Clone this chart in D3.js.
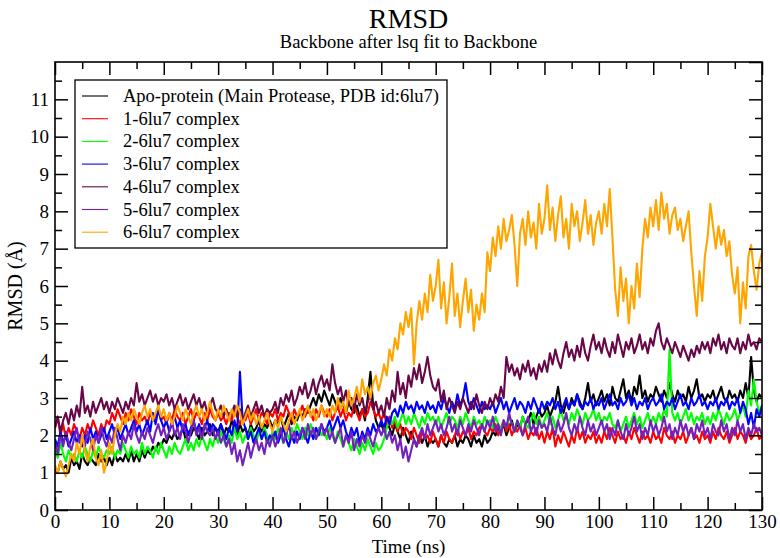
<!DOCTYPE html>
<html><head><meta charset="utf-8">
<script src="https://cdn.jsdelivr.net/npm/d3@7/dist/d3.min.js"></script>
<style>
body{margin:0;background:#fff}
svg{display:block}
text{font-family:"Liberation Serif","Times New Roman",serif;fill:#000}
</style>
</head><body>
<svg id="chart" width="780" height="558"></svg>
<script>
// ---- data (RMSD in Å, sampled every 0.5 ns from 0 to 130 ns) ----
const timeStepNs = 0.5;
const seriesNames = ["Apo-protein (Main Protease, PDB id:6lu7)","1-6lu7 complex","2-6lu7 complex","3-6lu7 complex","4-6lu7 complex","5-6lu7 complex","6-6lu7 complex"];
const seriesColors = ["#000000","#ff0000","#00ff00","#0000ff","#670748","#7221bc","#ffa500"];
const xTickLabels = [0,10,20,30,40,50,60,70,80,90,100,110,120,130];
const yTickLabels = [0,1,2,3,4,5,6,7,8,9,10,11];

const apo = [
1.1,1.0,1.3,1.1,1.2,1.0,1.4,1.2,1.3,1.1, 1.5,1.3,1.2,1.4,1.3,1.2,1.5,1.3,1.4,1.2,
1.4,1.2,1.5,1.3,1.4,1.3,1.5,1.3,1.6,1.3, 1.5,1.3,1.6,1.4,1.6,1.5,1.7,1.6,1.8,1.7,
1.9,1.8,2.0,1.9,2.1,1.9,2.0,2.2,1.9,2.1, 2.0,2.2,2.1,1.9,2.2,2.0,2.1,2.3,2.0,2.2,
2.1,2.3,2.0,2.2,2.1,2.4,2.2,2.0,2.3,2.1, 2.2,2.0,2.3,2.1,2.2,2.4,2.1,2.3,2.2,2.4,
2.2,2.4,2.3,2.5,2.2,2.4,2.6,2.3,2.5,2.4, 2.6,2.5,2.7,2.6,2.8,3.0,2.8,3.1,2.9,3.2,
3.0,2.8,3.1,2.9,2.7,3.0,2.8,2.6,2.9,2.7, 2.6,2.8,2.5,2.7,2.4,3.0,3.7,2.8,2.4,2.2,
2.3,2.1,2.4,2.2,2.0,2.3,2.1,1.9,2.2,2.0, 1.8,2.1,1.9,1.7,2.0,1.8,2.0,1.7,1.9,1.8,
1.9,1.7,2.0,1.8,1.7,1.9,1.8,2.0,1.7,1.9, 1.8,2.0,1.9,1.7,2.0,1.8,1.9,1.7,2.0,1.8,
1.9,2.1,2.0,2.2,2.1,2.3,2.0,2.2,2.4,2.1, 2.3,2.2,2.5,2.3,2.4,2.6,2.3,2.5,2.7,2.5,
2.6,2.8,2.5,2.7,2.9,3.3,2.8,2.6,2.9,2.7, 3.0,2.8,3.1,2.9,2.7,3.0,3.4,2.9,3.1,2.8,
3.0,3.2,2.9,3.1,2.8,3.3,3.0,2.9,3.2,3.5, 3.0,3.2,2.9,3.3,3.1,3.6,3.0,3.2,2.9,3.1,
3.0,3.3,3.1,2.9,3.2,3.0,3.4,3.1,2.9,3.2, 3.0,3.1,2.9,3.3,3.0,3.2,3.5,3.0,3.1,2.9,
3.1,3.0,3.2,2.9,3.1,3.3,3.0,2.9,3.2,3.0, 3.1,2.9,3.2,3.0,3.4,3.0,4.1,3.2,2.9,3.1, 3.0];

const complex1 = [
2.2,2.5,2.0,2.3,1.9,2.2,2.0,2.3,2.1,1.9, 2.2,2.0,2.3,2.1,2.4,2.2,2.0,2.3,2.1,2.4,
2.3,2.6,2.4,2.7,2.5,2.3,2.6,2.4,2.7,2.5, 2.3,2.6,2.4,2.5,2.3,2.6,2.4,2.5,2.7,2.4,
2.5,2.3,2.6,2.4,2.7,2.5,2.4,2.6,2.3,2.5, 2.7,2.4,2.6,2.5,2.3,2.6,2.4,2.7,2.5,2.4,
2.6,2.4,2.5,2.3,2.6,2.4,2.7,2.5,2.3,2.5, 2.4,2.6,2.3,2.5,2.7,2.4,2.6,2.5,2.3,2.6,
2.5,2.7,2.4,2.6,2.5,2.8,2.6,2.4,2.7,2.5, 2.6,2.8,2.5,2.7,2.6,2.4,2.7,2.5,2.8,2.6,
2.5,2.7,2.4,2.6,2.8,2.5,2.7,2.4,2.6,2.5, 2.8,2.6,2.4,2.7,2.5,2.6,2.9,2.7,2.5,2.6,
2.4,2.6,2.3,2.5,2.2,2.4,2.1,2.3,2.0,2.2, 2.1,1.9,2.2,2.0,1.8,2.1,1.9,2.0,1.8,2.1,
1.9,1.7,2.0,1.8,2.1,1.9,1.8,2.0,2.2,1.9, 2.1,2.0,2.2,1.9,2.1,2.0,2.2,2.3,2.1,2.0,
2.2,2.1,2.3,2.0,2.2,2.4,2.1,2.3,2.0,2.2, 2.1,2.3,2.0,2.2,1.9,2.1,2.0,2.2,1.9,2.1,
1.8,2.1,1.9,2.2,1.7,2.0,1.8,2.1,1.9,1.7, 2.0,1.8,2.2,1.9,2.1,1.8,2.0,1.9,2.1,1.8,
2.0,1.8,2.1,1.9,2.2,2.0,1.8,2.1,1.9,2.0, 1.8,2.1,1.9,2.2,2.0,1.8,2.1,1.9,2.0,1.8,
2.1,1.9,2.0,1.8,2.2,2.0,1.9,2.1,1.8,2.0, 1.9,2.1,1.8,2.0,2.2,1.9,2.0,1.8,2.1,1.9,
2.0,1.8,2.1,1.9,2.2,2.0,1.9,2.1,1.8,2.0, 2.2,1.9,2.1,2.0,1.8,2.1,1.9,2.0,2.2,1.9, 2.0];

const complex2 = [
1.6,1.4,1.8,1.5,1.3,1.6,1.4,1.5,1.3,1.6, 1.4,1.7,1.5,1.3,1.6,1.4,1.7,1.5,1.4,1.6,
1.5,1.7,1.4,1.6,1.5,1.8,1.6,1.4,1.7,1.5, 1.6,1.4,1.8,1.5,1.7,1.6,1.4,1.7,1.5,1.8,
1.6,1.4,1.7,1.5,1.8,1.6,1.5,1.7,1.9,1.6, 1.8,1.6,1.9,1.7,2.0,1.8,1.6,1.9,1.7,2.0,
1.8,2.1,1.9,1.7,2.0,1.8,2.2,1.9,2.1,1.8, 2.0,1.9,2.2,2.0,1.8,2.1,1.9,2.2,2.0,1.8,
2.1,1.9,2.2,2.0,1.8,2.1,1.9,2.2,2.0,2.3, 2.1,1.9,2.2,2.0,2.3,2.1,1.9,2.2,2.0,2.1,
1.9,2.2,2.0,1.8,2.1,1.9,1.7,2.0,1.8,1.6, 1.9,1.7,1.5,1.8,1.6,1.9,1.7,1.5,1.8,1.6,
1.7,1.9,2.2,2.4,2.3,2.5,2.2,2.4,2.6,2.3, 2.5,2.3,2.6,2.4,2.2,2.5,2.3,2.6,2.4,2.5,
2.3,2.5,2.2,2.4,2.6,2.3,2.5,2.4,2.2,2.5, 2.3,2.6,2.4,2.2,2.5,2.3,2.4,2.2,2.5,2.3,
2.4,2.2,2.5,2.3,2.1,2.4,2.2,2.5,2.3,2.1, 2.4,2.2,2.5,2.3,2.2,2.4,2.6,2.3,2.5,2.2,
2.4,2.6,2.3,2.5,2.2,2.4,2.7,2.4,2.5,2.3, 2.6,2.4,2.7,2.5,2.3,2.6,2.4,2.5,2.7,2.4,
2.6,2.3,2.5,2.4,2.6,2.3,2.2,2.4,2.1,2.3, 2.5,2.2,2.4,2.6,2.3,2.5,2.2,2.4,2.6,2.3,
2.5,2.3,2.6,2.4,2.7,2.5,4.3,2.6,2.4,2.6, 2.3,2.5,2.7,2.4,2.6,2.3,2.5,2.4,2.6,2.3,
2.5,2.3,2.6,2.4,2.7,2.5,2.3,2.6,2.4,2.5, 2.7,2.4,2.6,2.8,2.5,3.2,2.8,3.5,2.9,2.6, 2.8];

const complex3 = [
1.9,1.7,2.1,1.8,2.0,1.7,1.9,2.1,1.8,2.0, 1.7,2.0,1.8,2.2,1.9,2.1,1.8,2.0,2.2,1.9,
2.1,2.3,2.0,2.2,1.9,2.1,2.3,2.0,2.2,2.4, 2.1,2.3,2.0,2.2,2.4,2.1,2.6,2.3,2.7,2.4,
2.2,2.4,2.1,2.3,2.5,2.2,2.4,2.1,2.3,2.0, 2.2,2.4,2.1,2.3,2.0,2.2,2.4,2.1,2.3,2.2,
2.0,2.3,2.1,1.9,2.2,2.0,2.4,2.1,3.7,2.4, 2.2,1.9,2.1,1.8,2.0,2.2,1.9,2.1,1.8,2.0,
1.9,2.1,1.8,2.0,2.2,1.9,1.7,2.0,1.8,2.1, 1.9,2.2,2.0,1.8,2.1,1.9,2.2,2.0,2.3,2.1,
2.2,2.4,2.1,2.3,2.5,2.2,2.4,2.1,1.9,2.2, 2.0,2.2,1.8,2.1,1.9,2.2,2.0,2.3,2.1,2.2,
2.4,2.2,2.5,2.3,2.6,2.7,2.5,2.8,2.6,2.9, 2.7,2.8,2.6,2.9,2.7,2.8,2.6,2.9,2.7,2.8,
2.6,2.9,2.7,3.0,2.8,2.6,2.9,2.7,3.1,2.8, 3.0,3.4,2.9,2.7,3.0,2.8,2.6,2.9,2.7,2.8,
2.7,2.9,2.6,2.8,3.0,2.7,2.9,2.6,2.8,3.0, 2.7,2.9,2.8,2.6,2.9,2.7,3.0,2.8,2.6,2.9,
2.7,2.9,2.8,3.0,2.7,2.9,2.6,2.8,3.0,2.7, 2.9,2.8,3.1,2.8,2.7,2.9,2.8,3.0,2.7,2.9,
2.8,3.0,2.7,2.9,3.1,2.8,2.9,2.7,3.0,2.8, 2.9,3.1,2.8,3.0,2.7,2.9,2.8,3.0,2.7,2.9,
3.0,2.8,2.9,3.1,2.7,2.9,2.8,3.0,2.7,2.9, 3.1,2.8,2.9,2.7,3.0,2.8,2.9,3.1,2.8,2.9,
2.7,2.9,2.8,3.0,2.7,2.9,2.8,3.0,2.7,2.9, 2.8,3.0,2.6,2.9,2.7,2.3,2.6,2.2,2.7,2.5, 2.8];

const complex4 = [
2.2,2.5,2.1,2.4,2.6,2.3,2.7,2.4,2.8,2.5, 3.3,2.6,2.8,2.5,2.9,2.6,2.8,3.0,2.7,2.9,
2.6,2.9,2.7,3.0,2.8,2.6,2.9,2.7,3.0,2.8, 3.4,2.9,3.1,2.8,3.0,3.2,2.9,3.1,2.8,3.0,
2.9,3.1,2.8,3.0,2.7,2.9,3.1,2.8,3.0,2.7, 2.9,3.1,2.8,3.0,2.7,2.9,2.6,2.8,3.0,2.7,
2.6,2.8,2.5,2.7,2.4,2.6,2.8,2.5,2.7,2.4, 2.6,2.8,2.5,2.7,2.9,2.6,2.8,2.5,2.7,2.6,
2.7,2.9,2.6,3.0,2.8,3.1,2.9,3.2,2.8,3.0, 3.3,3.1,3.4,3.0,3.2,3.5,3.1,3.4,3.6,3.3,
3.5,3.2,3.9,3.4,3.1,3.3,2.9,3.2,2.8,3.0, 2.7,3.1,2.8,3.0,2.6,2.9,3.1,2.7,2.9,2.6,
2.8,2.5,3.0,2.7,3.2,2.9,3.7,3.1,3.4,3.0, 3.6,3.3,3.8,3.5,3.9,3.4,3.7,4.1,3.6,3.3,
3.2,3.5,2.9,3.2,2.7,3.0,2.8,2.6,2.9,2.7, 3.0,2.8,2.6,2.9,2.7,3.1,2.8,2.6,2.9,2.7,
3.0,2.8,3.1,2.9,3.3,3.0,4.1,3.7,3.9,3.6, 3.8,3.5,3.9,3.7,4.0,3.6,3.8,3.5,3.9,3.7,
4.0,3.7,4.2,3.9,4.3,4.0,3.8,4.2,4.5,4.1, 4.3,4.0,4.4,4.1,4.6,4.2,4.0,4.4,4.7,4.3,
4.5,4.2,4.6,4.3,4.1,4.5,4.2,4.7,4.4,4.1, 4.5,4.3,4.6,4.2,4.4,4.7,4.3,4.5,4.2,4.6,
4.4,4.8,5.0,4.5,4.3,4.6,4.4,4.2,4.5,4.3, 4.1,4.4,4.2,4.0,4.3,4.1,4.4,4.2,4.5,4.3,
4.5,4.2,4.6,4.4,4.7,4.3,4.5,4.2,4.6,4.4, 4.3,4.6,4.2,4.5,4.3,4.7,4.4,4.5,4.3,4.6, 4.5];

const complex5 = [
1.8,1.5,2.0,1.7,2.1,1.8,1.6,1.9,2.2,1.8, 2.0,1.7,2.1,1.9,1.6,2.0,1.8,2.2,1.9,1.7,
2.0,1.8,2.2,1.9,1.6,2.0,1.8,2.1,1.9,2.3, 2.0,1.8,2.1,1.9,2.2,2.0,1.8,2.1,2.3,2.0,
2.2,1.9,2.1,2.4,2.0,2.2,1.9,2.3,2.1,1.8, 2.1,2.4,2.0,2.2,1.9,2.3,2.1,2.0,2.2,1.9,
2.1,1.8,2.0,1.7,1.9,1.5,1.8,1.3,1.6,1.2, 1.5,1.8,1.4,1.7,1.9,1.6,1.8,1.5,1.9,1.7,
2.0,1.7,1.9,2.2,1.8,2.0,2.3,1.9,2.1,1.8, 2.0,2.2,1.9,2.3,2.0,2.2,1.9,2.1,2.3,2.0,
2.2,1.9,2.1,1.8,2.0,2.2,1.7,2.0,1.8,2.1, 1.6,1.9,1.7,2.0,1.8,2.1,1.9,1.7,2.0,2.2,
2.0,2.2,1.9,2.1,1.8,2.0,1.6,1.9,1.4,1.7, 1.3,1.6,1.9,1.7,2.0,2.2,1.9,2.3,2.0,2.2,
2.4,2.1,2.3,2.0,2.2,2.5,2.1,2.3,2.0,2.4, 2.2,2.0,2.3,2.1,2.4,2.2,2.0,2.3,2.1,2.4,
2.2,2.5,2.1,2.3,2.0,2.4,2.2,2.6,2.3,2.1, 2.4,2.2,2.0,2.3,2.5,2.1,2.3,2.0,2.4,2.2,
2.3,2.1,2.5,2.2,2.0,2.4,2.1,2.3,2.6,2.2, 2.0,2.3,2.1,2.5,2.2,2.0,2.4,2.1,2.3,2.0,
2.2,2.4,2.1,2.3,1.9,2.2,2.0,2.4,2.1,1.9, 2.3,2.0,2.2,2.5,2.1,2.3,1.9,2.2,2.0,2.4,
2.1,2.3,2.0,2.2,2.5,2.1,2.3,1.9,2.2,2.0, 2.4,2.1,2.3,2.0,2.2,1.9,2.3,2.1,2.4,2.0,
2.2,1.9,2.3,2.1,2.0,2.4,2.1,2.3,1.9,2.2, 2.0,2.4,2.1,2.3,1.9,2.2,2.0,2.3,2.1,2.2, 2.0];

const complex6 = [
1.2,1.0,1.3,1.1,0.9,1.2,1.5,1.3,1.8,1.5, 2.0,1.6,1.3,1.7,1.9,1.4,1.2,1.6,1.0,1.3,
1.8,1.5,2.0,2.3,2.1,2.5,2.3,2.6,2.4,2.7, 2.5,2.3,2.6,2.8,2.5,2.7,2.4,2.6,2.8,2.5,
2.7,2.4,2.6,2.3,2.5,2.8,2.6,2.4,2.7,2.5, 2.3,2.6,2.8,2.5,2.7,2.4,2.6,2.9,2.6,2.4,
2.7,2.5,2.8,2.6,2.4,2.7,2.5,2.8,2.6,2.3, 2.5,2.7,2.4,2.6,2.3,2.5,2.2,2.4,2.6,2.3,
2.1,2.4,2.2,2.5,2.3,2.1,2.4,2.6,2.3,2.5, 2.7,2.4,2.6,2.8,2.5,2.7,2.4,2.6,2.8,2.5,
2.7,2.5,2.8,2.6,3.0,2.7,2.9,2.6,3.2,2.8, 3.0,3.3,2.9,3.5,3.1,3.3,3.0,3.4,3.6,3.2,
3.5,3.9,3.6,4.3,4.0,4.6,4.3,5.0,4.7,5.3, 4.9,5.4,3.9,5.0,5.6,5.1,5.8,5.3,6.3,5.6,
6.0,6.7,5.4,6.1,5.0,5.7,6.6,5.2,5.8,4.9, 5.6,6.2,5.3,5.9,4.8,5.5,5.1,5.8,5.3,6.9,
6.4,7.3,6.8,7.6,7.0,7.8,7.2,7.5,7.9,7.1, 6.0,7.4,7.8,7.1,8.0,7.3,7.7,7.0,8.2,7.4,
7.8,8.7,7.5,8.1,7.2,7.9,8.4,7.3,7.8,7.0, 8.2,7.6,8.0,7.2,7.7,8.3,7.4,7.9,7.1,7.7,
8.0,7.4,8.2,7.6,8.6,7.3,5.9,5.2,6.5,5.6, 6.2,5.0,6.0,5.4,6.6,5.7,7.0,7.8,7.3,8.1,
7.6,8.3,7.5,8.5,7.8,8.2,7.4,7.9,8.1,7.5, 7.8,7.2,7.6,8.0,6.9,6.0,5.2,6.4,5.6,6.8,
7.3,8.2,7.6,7.0,7.6,7.1,7.5,6.8,7.2,6.3, 5.8,6.5,5.0,6.1,5.4,6.8,7.1,6.4,5.9,6.6, 6.9];

const seriesValues = [apo, complex1, complex2, complex3, complex4, complex5, complex6];

// ---- layout ----
const W = 780, H = 558;
const margin = {left:55, right:18, top:62, bottom:48};
const svg = d3.select("#chart");
const x = d3.scaleLinear().domain([0,130]).range([margin.left, W - margin.right]);
const y = d3.scaleLinear().domain([0,12]).range([H - margin.bottom, margin.top]);

svg.append("defs").append("clipPath").attr("id","plotclip")
  .append("rect").attr("x", x(0)).attr("y", y(12)).attr("width", x(130)-x(0)).attr("height", y(0)-y(12));

// ---- series lines ----
const line = d3.line().x((d,i)=>x(i*timeStepNs)).y(d=>y(d));
const gLines = svg.append("g").attr("clip-path","url(#plotclip)");
seriesValues.forEach((vals, k) => {
  gLines.append("path").datum(vals)
    .attr("fill","none").attr("stroke", seriesColors[k])
    .attr("stroke-width", 2.1).attr("stroke-linejoin","round")
    .attr("d", line);
});

// ---- axes ----
const xMinor = d3.range(5,130,10);
const yMinor = d3.range(0.5,12,1);
const yMajorAll = d3.range(0,13,1);
function styleAxis(g){ g.select(".domain").remove(); g.selectAll("line").attr("stroke","#000").attr("stroke-width",1.5);
  g.attr("font-family",null).attr("font-size",null);
  g.selectAll("text").style("font-family",'"Liberation Serif",serif').style("font-size","19px").attr("fill","#000"); }

svg.append("g").attr("transform",`translate(0,${y(0)})`)
  .call(d3.axisBottom(x).tickValues(xTickLabels).tickSize(-13).tickPadding(5).tickFormat(d3.format("d"))).call(styleAxis);
svg.append("g").attr("transform",`translate(0,${y(0)})`)
  .call(d3.axisBottom(x).tickValues(xMinor).tickSize(-7).tickFormat("")).call(styleAxis);
svg.append("g").attr("transform",`translate(0,${y(12)})`)
  .call(d3.axisTop(x).tickValues(xTickLabels).tickSize(-13).tickFormat("")).call(styleAxis);
svg.append("g").attr("transform",`translate(0,${y(12)})`)
  .call(d3.axisTop(x).tickValues(xMinor).tickSize(-7).tickFormat("")).call(styleAxis);

svg.append("g").attr("transform",`translate(${x(0)},0)`)
  .call(d3.axisLeft(y).tickValues(yTickLabels).tickSize(-13).tickPadding(6).tickFormat(d3.format("d"))).call(styleAxis);
svg.append("g").attr("transform",`translate(${x(0)},0)`)
  .call(d3.axisLeft(y).tickValues(yMinor).tickSize(-7).tickFormat("")).call(styleAxis);
svg.append("g").attr("transform",`translate(${x(130)},0)`)
  .call(d3.axisRight(y).tickValues(yMajorAll).tickSize(-13).tickFormat("")).call(styleAxis);
svg.append("g").attr("transform",`translate(${x(130)},0)`)
  .call(d3.axisRight(y).tickValues(yMinor).tickSize(-7).tickFormat("")).call(styleAxis);

svg.append("rect").attr("x", x(0)).attr("y", y(12)).attr("width", x(130)-x(0)).attr("height", y(0)-y(12))
  .attr("fill","none").attr("stroke","#000").attr("stroke-width",1.6);

// ---- titles ----
svg.append("text").attr("x", (x(0)+x(130))/2).attr("y", 28).attr("text-anchor","middle")
  .style("font-size","28px").text("RMSD");
svg.append("text").attr("x", (x(0)+x(130))/2).attr("y", 48).attr("text-anchor","middle")
  .style("font-size","18.5px").text("Backbone after lsq fit to Backbone");
svg.append("text").attr("x", (x(0)+x(130))/2).attr("y", 553).attr("text-anchor","middle")
  .style("font-size","19px").text("Time (ns)");
svg.append("text").attr("transform",`translate(22,${(y(0)+y(12))/2}) rotate(-90)`).attr("text-anchor","middle")
  .style("font-size","20px").text("RMSD (Å)");

// ---- legend ----
const lg = svg.append("g");
lg.append("rect").attr("x",75).attr("y",80).attr("width",372).attr("height",168)
  .attr("fill","#fff").attr("stroke","#000").attr("stroke-width",1.3);
seriesNames.forEach((name,k)=>{
  const yy = 96 + k*22.7;
  lg.append("line").attr("x1",82).attr("x2",108).attr("y1",yy).attr("y2",yy)
    .attr("stroke", seriesColors[k]).attr("stroke-width",1.1);
  lg.append("text").attr("x",123).attr("y",yy+6).style("font-size","18.5px").text(name);
});
</script>
</body></html>
